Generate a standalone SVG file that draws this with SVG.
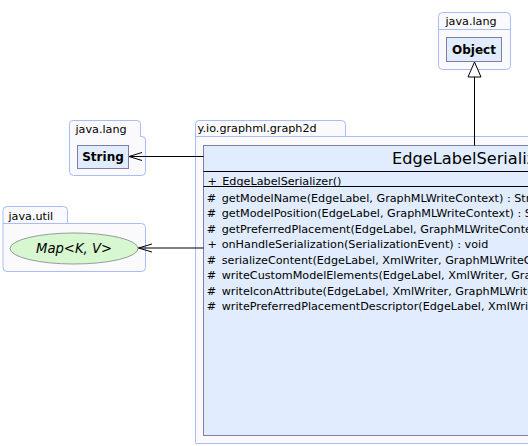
<svg xmlns="http://www.w3.org/2000/svg" width="528" height="446" viewBox="0 0 528 446">
<style>
.pkg{fill:#fafafc;stroke:#aabcf6;stroke-width:1}
.pl{font-family:"DejaVu Sans",sans-serif;font-size:11.2px;fill:#000}
.cls{fill:#e1edff;stroke:#7e7ea6;stroke-width:1}
.cn{font-family:"DejaVu Sans",sans-serif;font-size:12px;font-weight:bold;fill:#000;text-anchor:middle}
.t{font-family:"DejaVu Sans",sans-serif;font-size:11.2px;fill:#000}
.sep{stroke:#000;stroke-width:1}
.edge{fill:none;stroke:#000;stroke-width:1}
</style>
<rect width="528" height="446" fill="#ffffff"/>

<g id="pkg-object">
<rect class="pkg" x="438.5" y="12.5" width="72" height="57" rx="4"/>
<line x1="438.5" y1="29.5" x2="510.5" y2="29.5" stroke="#aabcf6"/>
<text class="pl" x="445.5" y="25">java.lang</text>
</g>
<g id="Object">
<rect class="cls" x="446.5" y="37.5" width="55" height="24"/>
<text class="cn" x="474" y="54">Object</text>
</g>

<g id="pkg-string">
<path class="pkg" d="M69.5 124 Q69.5 120.5 73 120.5 L137 120.5 Q140.5 120.5 140.5 124 L140.5 136.5 L142 136.5 Q145.5 136.5 145.5 140 L145.5 171.5 Q145.5 175.5 141.5 175.5 L73.5 175.5 Q69.5 175.5 69.5 171.5 Z"/>
<text class="pl" x="75.5" y="133">java.lang</text>
</g>
<g id="String">
<rect class="cls" x="77.5" y="145.5" width="51" height="23"/>
<text class="cn" x="103" y="161">String</text>
</g>

<g id="pkg-util">
<path class="pkg" d="M3 210.5 Q3 206.5 7 206.5 L63.5 206.5 Q67.5 206.5 67.5 210.5 L67.5 223.5 L141.5 223.5 Q145.5 223.5 145.5 227.5 L145.5 267.5 Q145.5 271.5 141.5 271.5 L7 271.5 Q3 271.5 3 267.5 Z"/>
<line x1="3" y1="223.5" x2="67.5" y2="223.5" stroke="#aabcf6"/>
<text class="pl" x="8.5" y="219.5">java.util</text>
</g>
<g id="Map">
<ellipse cx="74" cy="248.5" rx="64" ry="15.5" fill="#d6f7cf" stroke="#9a9a9a"/>
<text x="74" y="253" text-anchor="middle" font-family="DejaVu Sans,sans-serif" font-size="13.2px" font-style="italic">Map&lt;K, V&gt;</text>
</g>

<g id="pkg-graph2d">
<path class="pkg" d="M195.5 443.5 L195.5 124 Q195.5 120.5 199 120.5 L341.5 120.5 Q345.5 120.5 345.5 124.5 L345.5 136.5 L540 136.5 L540 443.5 Z"/>
<line x1="195.5" y1="136.5" x2="345.5" y2="136.5" stroke="#aabcf6"/>
<text class="pl" x="197.5" y="132">y.io.graphml.graph2d</text>
</g>

<g id="EdgeLabelSerializer">
<rect class="cls" x="203.5" y="145.5" width="543" height="290"/>
<text x="392" y="164" font-family="DejaVu Sans,sans-serif" font-size="16.2px">EdgeLabelSerializer</text>
<line class="sep" x1="203.5" y1="171.5" x2="746" y2="171.5"/>
<text class="t" x="207.5" y="185">+</text><text class="t" x="222.3" y="185">EdgeLabelSerializer()</text>
<line class="sep" x1="203.5" y1="186.5" x2="746" y2="186.5"/>
<text class="t" x="206.7" y="201.7">#</text><text class="t" x="221.7" y="201.7">getModelName(EdgeLabel, GraphMLWriteContext) : String</text>
<text class="t" x="206.7" y="217.2">#</text><text class="t" x="221.7" y="217.2">getModelPosition(EdgeLabel, GraphMLWriteContext) : String</text>
<text class="t" x="206.7" y="232.7">#</text><text class="t" x="221.7" y="232.7">getPreferredPlacement(EdgeLabel, GraphMLWriteContext) : String</text>
<text class="t" x="207.5" y="248.2">+</text><text class="t" x="221.7" y="248.2">onHandleSerialization(SerializationEvent) : void</text>
<text class="t" x="206.7" y="263.7">#</text><text class="t" x="221.7" y="263.7">serializeContent(EdgeLabel, XmlWriter, GraphMLWriteContext) : void</text>
<text class="t" x="206.7" y="279.2">#</text><text class="t" x="221.7" y="279.2">writeCustomModelElements(EdgeLabel, XmlWriter, GraphMLWriteContext) : void</text>
<text class="t" x="206.7" y="294.7">#</text><text class="t" x="221.7" y="294.7">writeIconAttribute(EdgeLabel, XmlWriter, GraphMLWriteContext) : void</text>
<text class="t" x="206.7" y="310.2">#</text><text class="t" x="221.7" y="310.2">writePreferredPlacementDescriptor(EdgeLabel, XmlWriter, GraphMLWriteContext) : void</text>
</g>

<g id="connectors">
<line class="edge" x1="474.5" y1="77" x2="474.5" y2="145.5"/>
<polygon points="474.5,62 468,77 481,77" fill="#ffffff" stroke="#000"/>
<line class="edge" x1="203.5" y1="156.5" x2="129" y2="156.5"/>
<polyline class="edge" points="142,152.5 129,156.5 142,160.5"/>
<line class="edge" x1="203.5" y1="248" x2="138.5" y2="248"/>
<polyline class="edge" points="152,244 138.5,248 152,252"/>
</g>
</svg>
